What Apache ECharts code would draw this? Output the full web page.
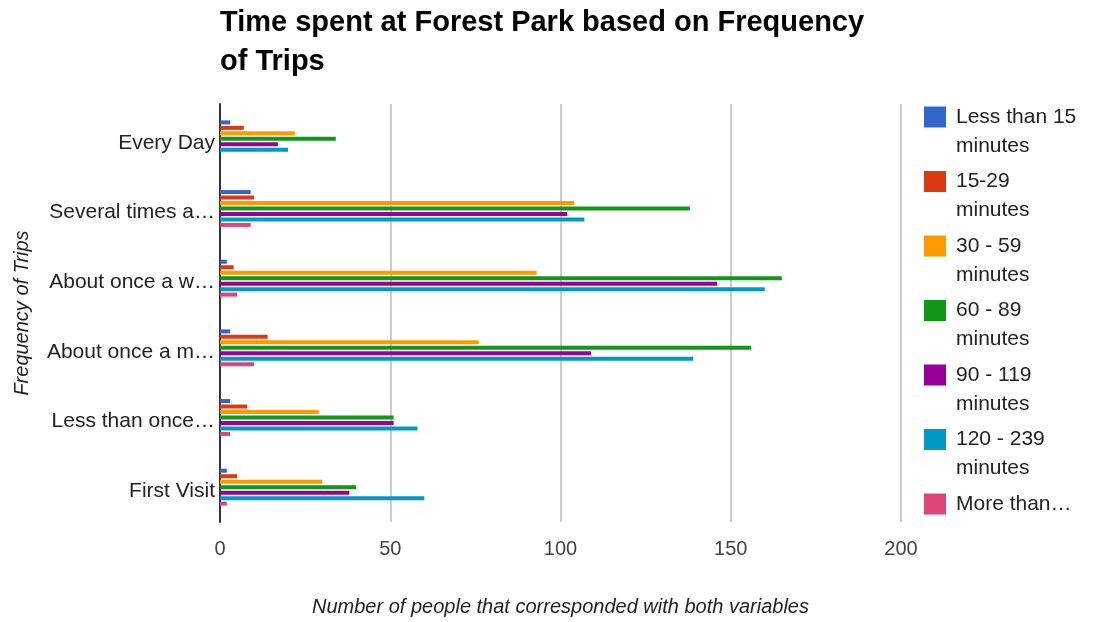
<!DOCTYPE html>
<html>
<head>
<meta charset="utf-8">
<script src="https://cdn.jsdelivr.net/npm/echarts@6/dist/echarts.min.js"></script>
<style>
  html, body { margin: 0; padding: 0; background: #ffffff; }
  #chart { width: 1095px; height: 622px; }
</style>
</head>
<body>
<div id="chart"></div>
<script>
// Visit frequency groups (drawn top to bottom)
const categories = [
  'Every Day',
  'Several times a week',
  'About once a week',
  'About once a month',
  'Less than once a month',
  'First Visit'
];

// Time-spent buckets, one series each
const seriesNames = [
  'Less than 15 minutes',
  '15-29 minutes',
  '30 - 59 minutes',
  '60 - 89 minutes',
  '90 - 119 minutes',
  '120 - 239 minutes',
  'More than 240 minutes'
];

// Number of people per frequency group, one array per bucket
const lessThan15 = [3, 9, 2, 3, 3, 2];
const min15to29 = [7, 10, 4, 14, 8, 5];
const min30to59 = [22, 104, 93, 76, 29, 30];
const min60to89 = [34, 138, 165, 156, 51, 40];
const min90to119 = [17, 102, 146, 109, 51, 38];
const min120to239 = [20, 107, 160, 139, 58, 60];
const moreThan240 = [0, 9, 5, 10, 3, 2];

const xTicks = [0, 50, 100, 150, 200];

const seriesValues = [lessThan15, min15to29, min30to59, min60to89, min90to119, min120to239, moreThan240];
const palette = ['#3366cc', '#dc3912', '#ff9900', '#109618', '#990099', '#0099c6', '#dd4477'];

const FONT = '"Liberation Sans", Arial, sans-serif';
const LAST = seriesNames[seriesNames.length - 1];

const chart = echarts.init(document.getElementById('chart'), null, { renderer: 'canvas' });

// Wrapped legend entries: the last one is cut to a single line,
// the others wrap onto two lines with the first line beside the swatch
const legendData = seriesNames.map((name) => ({
  name: name,
  textStyle: name === LAST
    ? { width: 123, overflow: 'truncate', ellipsis: '…', padding: [29, 0, 29, 5] }
    : { width: 132, overflow: 'break', padding: [0, 0, 0, 5] }
}));

chart.setOption({
  animation: false,
  backgroundColor: '#ffffff',
  color: palette,
  title: {
    text: 'Time spent at Forest Park based on Frequency\nof Trips',
    left: 220,
    top: 3,
    padding: 0,
    textStyle: {
      fontFamily: FONT,
      fontSize: 29,
      fontWeight: 'bold',
      color: '#000000',
      lineHeight: 39
    }
  },
  legend: {
    orient: 'vertical',
    left: 924,
    top: 73.5,
    padding: 0,
    itemWidth: 22,
    itemHeight: 21,
    itemGap: -22.5,
    icon: 'rect',
    selectedMode: false,
    data: legendData,
    formatter: (name) => (name === LAST ? name : '\n' + name),
    textStyle: {
      fontFamily: FONT,
      fontSize: 21,
      color: '#222222',
      lineHeight: 29
    }
  },
  grid: {
    left: 220,
    right: 194,
    top: 104,
    bottom: 100,
    outerBoundsMode: 'none',
    containLabel: false
  },
  xAxis: {
    type: 'value',
    min: xTicks[0],
    max: xTicks[xTicks.length - 1],
    interval: xTicks[1] - xTicks[0],
    name: 'Number of people that corresponded with both variables',
    nameLocation: 'middle',
    nameGap: 75,
    nameTextStyle: {
      fontFamily: FONT,
      fontSize: 20,
      fontStyle: 'italic',
      color: '#222222'
    },
    axisLine: { show: false },
    axisTick: { show: false },
    axisLabel: {
      fontFamily: FONT,
      fontSize: 20,
      color: '#444444',
      margin: 17
    },
    splitLine: { lineStyle: { color: '#cccccc', width: 2 } }
  },
  yAxis: {
    type: 'category',
    data: categories,
    inverse: true,
    name: 'Frequency of Trips',
    nameLocation: 'middle',
    nameRotate: 90,
    nameGap: 188,
    nameTextStyle: {
      fontFamily: FONT,
      fontSize: 20,
      fontStyle: 'italic',
      color: '#222222'
    },
    axisLine: { show: true, lineStyle: { color: '#333333', width: 2 } },
    axisTick: { show: false },
    axisLabel: {
      fontFamily: FONT,
      fontSize: 21,
      color: '#222222',
      margin: 5,
      width: 171,
      overflow: 'truncate',
      ellipsis: '…',
      verticalAlign: 'top',
      lineHeight: 8
    },
    splitLine: { show: false }
  },
  series: seriesNames.map((name, i) => ({
    name: name,
    type: 'bar',
    data: seriesValues[i],
    barWidth: 4,
    barGap: '37%',
    itemStyle: { color: palette[i] }
  }))
});
</script>
</body>
</html>
